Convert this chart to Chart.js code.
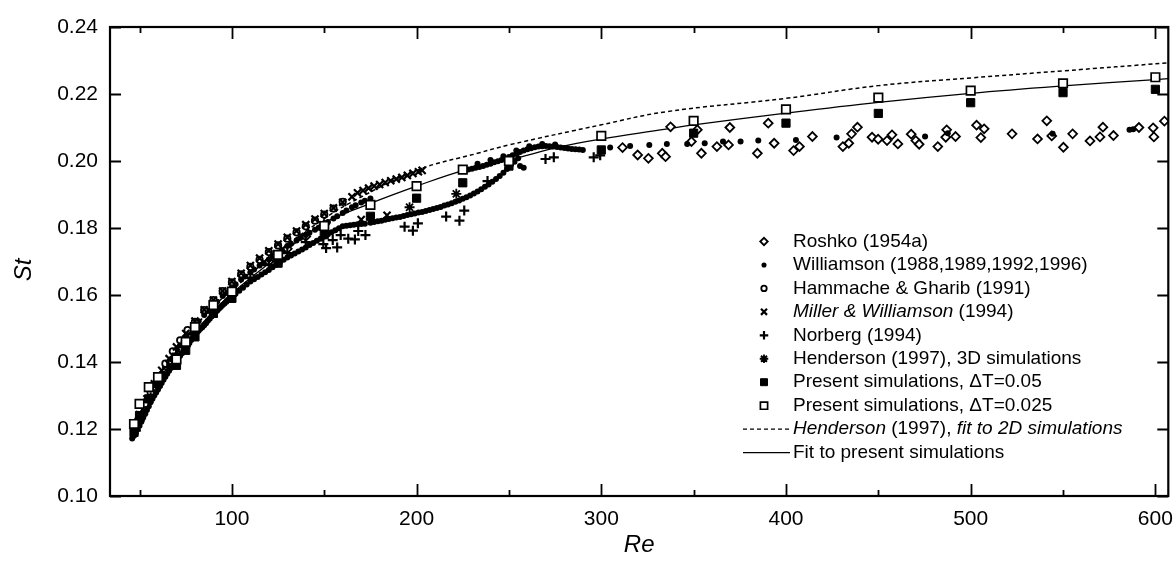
<!DOCTYPE html>
<html>
<head>
<meta charset="utf-8">
<script src="https://cdn.jsdelivr.net/npm/chart.js"></script>
<style>
  body { margin: 0; background: #fff; }
  canvas { display: block; }
</style>
</head>
<body>
<canvas id="myChart" width="1176" height="561"></canvas>
<script>
// axis ticks
const xTicks = [100, 200, 300, 400, 500, 600];
const xMinorTicks = [50, 150, 250, 350, 450, 550];
const yTicks = [0.10, 0.12, 0.14, 0.16, 0.18, 0.20, 0.22, 0.24];

// [Re, St]
const roshko = [
  [50, 0.1225], [55, 0.129], [60, 0.134], [65, 0.1385], [70, 0.1425], [80, 0.1495],
  [90, 0.1558], [100, 0.161], [110, 0.1655], [120, 0.170], [130, 0.1738], [140, 0.1775], [150, 0.181],
  [311.5, 0.204], [319.7, 0.2018], [325.5, 0.2008], [333, 0.2023], [334.8, 0.2013], [337.5, 0.2102],
  [348.8, 0.2058], [352, 0.2093], [354.2, 0.2023], [362.6, 0.2043], [368.9, 0.2048], [369.6, 0.21],
  [384.5, 0.2023], [390.4, 0.2113], [393.6, 0.2053], [404.1, 0.2031], [407.3, 0.2043], [414.3, 0.2073],
  [430.8, 0.2043], [434, 0.2053], [435.5, 0.2081], [438.7, 0.2101], [446.6, 0.2071], [449.9, 0.2065],
  [454.7, 0.2061], [457.4, 0.2078], [460.6, 0.2051], [467.8, 0.208], [470.3, 0.2061], [472.1, 0.205],
  [482.2, 0.2043], [486.5, 0.2071], [487, 0.2093], [491.8, 0.2073], [503.2, 0.2107], [505.5, 0.207],
  [507.3, 0.2096], [522.4, 0.2081], [536.2, 0.2066], [541.2, 0.212], [543.9, 0.2075], [550.2, 0.2041],
  [555.2, 0.2081], [564.6, 0.206], [570, 0.2072], [571.6, 0.2101], [577.3, 0.2076], [591.1, 0.21],
  [598.8, 0.2099], [599.2, 0.2072], [604.9, 0.2119]
];

const williamson = [
  [46, 0.1172], [47, 0.118], [48, 0.1188], [49, 0.12], [50, 0.121], [51, 0.1222], [52, 0.1234],
  [53, 0.1245], [54, 0.1257], [55, 0.1268], [56, 0.128], [57, 0.129], [58, 0.13], [59, 0.1309],
  [60, 0.1318], [61, 0.1328], [62, 0.1337], [63, 0.1347], [64, 0.1356], [65, 0.1365], [66, 0.1374],
  [67, 0.1382], [68, 0.139], [69, 0.1398], [70, 0.1405], [71, 0.1412], [72, 0.1419], [73, 0.1426],
  [74, 0.1433], [75, 0.144], [76, 0.1448], [77, 0.1457], [78, 0.1466], [79, 0.1474], [80, 0.1482],
  [81, 0.1488], [82, 0.1493], [83, 0.1499], [84, 0.1504], [85, 0.151], [86, 0.1516], [87, 0.1523],
  [88, 0.1529], [89, 0.1536], [90, 0.1542], [91, 0.1548], [92, 0.1553], [93, 0.1559], [94, 0.1564],
  [95, 0.157], [96, 0.1575], [97, 0.158], [98, 0.1585], [99, 0.159], [100, 0.1595],
  [102, 0.1604], [104, 0.1613], [106, 0.1622], [108, 0.1631], [110, 0.164], [112, 0.1647],
  [114, 0.1654], [116, 0.1661], [118, 0.1668], [120, 0.1675], [122, 0.1683], [124, 0.169],
  [126, 0.1697], [128, 0.1705], [130, 0.1712], [132, 0.1718], [134, 0.1724], [136, 0.173],
  [138, 0.1736], [140, 0.1742], [142, 0.1749], [144, 0.1755], [146, 0.1762], [148, 0.1768],
  [150, 0.1775], [152, 0.1781], [154, 0.1787], [156, 0.1793], [158, 0.1799], [160, 0.1805],
  [48, 0.1205], [50, 0.1228], [52, 0.1252], [55, 0.129], [57, 0.1312], [60, 0.1345], [62, 0.1362],
  [65, 0.1392], [67, 0.1408], [70, 0.1435], [72, 0.1449], [75, 0.1472], [77, 0.1488], [80, 0.1511],
  [82, 0.1522], [85, 0.154], [87, 0.1552], [90, 0.1568], [92, 0.158], [95, 0.1597], [97, 0.1607],
  [100, 0.1622], [102, 0.1632], [105, 0.1646], [107, 0.1655], [110, 0.1668], [112, 0.1676],
  [115, 0.1688], [117, 0.1695], [120, 0.1706], [122, 0.1714], [125, 0.1726], [127, 0.1734],
  [130, 0.1746], [132, 0.1753], [135, 0.1763], [137, 0.177], [140, 0.1779], [142, 0.1786],
  [145, 0.1795], [147, 0.1801], [150, 0.1811], [152, 0.1818], [155, 0.1828], [157, 0.1835],
  [160, 0.1845], [162, 0.1852], [165, 0.1862], [167, 0.1868], [170, 0.1876], [172, 0.1881], [175, 0.1888],
  [162, 0.1807], [164, 0.1808], [166, 0.181], [168, 0.1811], [170, 0.1812], [172, 0.1813],
  [175, 0.1816], [177, 0.1818], [179, 0.182], [181, 0.1822], [183, 0.1825], [185, 0.1827],
  [187, 0.1829], [189, 0.1831], [191, 0.1833], [193, 0.1836], [195, 0.1839], [197, 0.1841],
  [199, 0.1843], [201, 0.1846], [203, 0.1848], [205, 0.1851], [207, 0.1854], [209, 0.1857],
  [211, 0.186], [213, 0.1863], [215, 0.1867], [217, 0.187], [219, 0.1874], [221, 0.1878],
  [223, 0.1882], [225, 0.1887], [227, 0.1892], [229, 0.1897], [231, 0.1903], [233, 0.1909],
  [235, 0.1916], [237, 0.1923], [239, 0.193], [241, 0.1938], [243, 0.1946], [245, 0.1955],
  [247, 0.1965], [249, 0.1976], [251, 0.1988], [253, 0.1998], [255, 0.2008], [256, 0.1985], [258, 0.198],
  [228, 0.1975], [230, 0.1977], [232, 0.198], [234, 0.1982], [236, 0.1985], [238, 0.1989],
  [240, 0.1992], [242, 0.1996], [244, 0.1999], [246, 0.2003], [248, 0.2007], [250, 0.2012],
  [252, 0.2017], [254, 0.2022], [256, 0.2027], [258, 0.2031], [260, 0.2035], [262, 0.2038],
  [264, 0.2041], [266, 0.2043], [268, 0.2044], [270, 0.2045], [272, 0.2044], [274, 0.2043],
  [276, 0.2042], [278, 0.204], [280, 0.2039], [282, 0.2037], [284, 0.2036], [286, 0.2035],
  [288, 0.2034], [290, 0.2033],
  [233, 0.1992], [240, 0.2003], [247, 0.2014], [254, 0.2031], [261, 0.2044], [268, 0.2051], [275, 0.2049],
  [304.8, 0.204], [315.6, 0.2045], [326, 0.2048], [335.5, 0.2051], [346.5, 0.2051], [356, 0.2053],
  [365.9, 0.2058], [375.4, 0.2058], [385, 0.2061], [405.4, 0.2063], [427.4, 0.207], [475.3, 0.2073],
  [487.6, 0.2083], [544.4, 0.2081], [586, 0.2093], [588, 0.2095]
];

const hammache = [
  [47, 0.1195], [50, 0.1238], [53, 0.1275], [56, 0.131], [60, 0.1355], [64, 0.1395], [68, 0.1432],
  [72, 0.1465], [76, 0.1495], [80, 0.152], [85, 0.1555], [90, 0.1585], [95, 0.1612], [100, 0.1638],
  [105, 0.1662], [110, 0.1684], [115, 0.1705], [120, 0.1728], [125, 0.1748], [130, 0.1768],
  [135, 0.1787], [140, 0.1805], [145, 0.1822], [150, 0.184], [155, 0.1858], [160, 0.1878]
];

const miller = [
  [50, 0.1243], [54, 0.129], [58, 0.1335], [62, 0.1375], [66, 0.141], [70, 0.1445], [75, 0.1485],
  [80, 0.1522], [85, 0.1556], [90, 0.1585], [95, 0.1612], [100, 0.164], [105, 0.1665], [110, 0.1688],
  [115, 0.171], [120, 0.1732], [125, 0.1752], [130, 0.1772], [135, 0.1791], [140, 0.181],
  [145, 0.1827], [150, 0.1843], [155, 0.186], [160, 0.1877], [165, 0.1893], [168, 0.1905],
  [171, 0.1912], [174, 0.1919], [177, 0.1925], [180, 0.193], [183, 0.1936], [186, 0.1941],
  [189, 0.1946], [192, 0.1951], [195, 0.1957], [198, 0.1963], [201, 0.1968], [203, 0.1972],
  [170, 0.1825], [184, 0.1838]
];

const norberg = [
  [48, 0.1195], [52, 0.1245], [56, 0.1295], [60, 0.1335], [65, 0.1385], [70, 0.1425], [75, 0.146],
  [80, 0.1495], [90, 0.1555], [100, 0.1605], [110, 0.1652], [120, 0.169], [130, 0.1725], [140, 0.1758],
  [149.5, 0.1752], [151, 0.174], [154.6, 0.1764], [157, 0.1742], [158.9, 0.1779], [163, 0.1768],
  [166.6, 0.1766], [168.4, 0.1791], [172.3, 0.1779], [193.5, 0.1804], [198, 0.1792], [200.7, 0.1814],
  [216, 0.1834], [223.2, 0.1822], [225.8, 0.1852], [238.4, 0.194], [269.8, 0.2006], [274.3, 0.2011],
  [295.9, 0.2011], [299.4, 0.2017]
];

const henderson3d = [[196.2, 0.1862], [221.5, 0.1902]];

const presentDt05 = [
  [47, 0.119], [50, 0.124], [55, 0.129], [60, 0.1335], [70, 0.139], [75, 0.1435], [80, 0.1475],
  [90, 0.1545], [100, 0.159], [125, 0.1695], [150, 0.178], [175, 0.1835], [200, 0.1889], [225, 0.1935],
  [250, 0.1985], [300, 0.2033], [350, 0.2083], [400, 0.2113], [450, 0.2142], [500, 0.2174],
  [550, 0.2204], [600, 0.2214]
];

const presentDt025 = [
  [47, 0.1215], [50, 0.1275], [55, 0.1325], [60, 0.1355], [70, 0.1408], [75, 0.146], [80, 0.1504],
  [90, 0.157], [100, 0.161], [125, 0.172], [150, 0.1806], [175, 0.1869], [200, 0.1925], [225, 0.1974],
  [250, 0.2], [300, 0.2075], [350, 0.212], [400, 0.2154], [450, 0.2189], [500, 0.221], [550, 0.2232],
  [600, 0.225]
];

const hendersonFit = [
  [47, 0.1225], [50, 0.1255], [60, 0.1355], [70, 0.1435], [80, 0.1505], [90, 0.1565], [100, 0.1615],
  [125, 0.173], [150, 0.1828], [163, 0.1872], [200, 0.1972], [233, 0.2023], [250, 0.2048],
  [300, 0.2108], [335, 0.2147], [400, 0.2187], [450, 0.2225], [500, 0.2248], [550, 0.2269], [607, 0.2293]
];

const presentFit = [
  [47, 0.1215], [50, 0.1245], [60, 0.1345], [70, 0.1415], [80, 0.149], [90, 0.155], [100, 0.1605],
  [125, 0.1715], [150, 0.1815], [172, 0.1867], [200, 0.1925], [226, 0.1973], [250, 0.2003],
  [278, 0.2043], [298, 0.2064], [335, 0.2095], [350, 0.2108], [400, 0.2143], [450, 0.2175],
  [500, 0.2202], [550, 0.2224], [600, 0.2243], [607, 0.2246]
];

const FONT = "'Liberation Sans', Arial, sans-serif";

function pts(arr) {
  return arr.map(p => ({ x: p[0], y: p[1] }));
}

// marker styles, shared with the legend
const styles = {
  roshko: { pointStyle: "rectRot", radius: 4.4, borderWidth: 1.8, fill: "#fff" },
  williamson: { pointStyle: "circle", radius: 3, borderWidth: 0, fill: "#000" },
  hammache: { pointStyle: "circle", radius: 3.2, borderWidth: 1.8, fill: "#fff" },
  miller: { pointStyle: "crossRot", radius: 5, borderWidth: 2.2, fill: "#000" },
  norberg: { pointStyle: "cross", radius: 5, borderWidth: 2.2, fill: "#000" },
  henderson: { pointStyle: "star", radius: 5, borderWidth: 1.8, fill: "#000" },
  dt05: { pointStyle: "rect", radius: 5.8, borderWidth: 1, fill: "#000" },
  dt025: { pointStyle: "rect", radius: 6, borderWidth: 1.7, fill: "#fff" },
};

function scatterSet(label, data, st, order) {
  return {
    label: label,
    data: pts(data),
    showLine: false,
    pointStyle: st.pointStyle,
    pointRadius: st.radius,
    pointBorderWidth: st.borderWidth,
    pointBackgroundColor: st.fill,
    pointBorderColor: "#000",
    order: order,
  };
}

const legendRows = [
  { st: styles.roshko, parts: [["Roshko (1954a)", false]] },
  { st: styles.williamson, parts: [["Williamson (1988,1989,1992,1996)", false]] },
  { st: styles.hammache, parts: [["Hammache & Gharib (1991)", false]] },
  { st: styles.miller, parts: [["Miller & Williamson", true], [" (1994)", false]] },
  { st: styles.norberg, parts: [["Norberg (1994)", false]] },
  { st: styles.henderson, parts: [["Henderson (1997), 3D simulations", false]] },
  { st: styles.dt05, parts: [["Present simulations, \u0394T=0.05", false]] },
  { st: styles.dt025, parts: [["Present simulations, \u0394T=0.025", false]] },
  { line: [4, 3], parts: [["Henderson", true], [" (1997),", false], [" fit to 2D simulations", true]] },
  { line: [], parts: [["Fit to present simulations", false]] },
];

// frame, inward ticks, axis titles and legend
const decorations = {
  id: "decorations",
  afterDraw(chart) {
    const ctx = chart.ctx;
    const a = chart.chartArea;
    const xs = chart.scales.x;
    const ys = chart.scales.y;
    ctx.save();
    ctx.strokeStyle = "#000";
    ctx.lineWidth = 1.8;
    ctx.beginPath();
    xTicks.forEach(v => {
      const px = Math.round(xs.getPixelForValue(v)) + 0.5;
      ctx.moveTo(px, a.bottom); ctx.lineTo(px, a.bottom - 12);
      ctx.moveTo(px, a.top); ctx.lineTo(px, a.top + 12);
    });
    xMinorTicks.forEach(v => {
      const px = Math.round(xs.getPixelForValue(v)) + 0.5;
      ctx.moveTo(px, a.bottom); ctx.lineTo(px, a.bottom - 6);
      ctx.moveTo(px, a.top); ctx.lineTo(px, a.top + 6);
    });
    yTicks.forEach(v => {
      const py = Math.round(ys.getPixelForValue(v)) + 0.5;
      ctx.moveTo(a.left, py); ctx.lineTo(a.left + 11, py);
      ctx.moveTo(a.right, py); ctx.lineTo(a.right - 11, py);
    });
    ctx.stroke();
    ctx.lineWidth = 2.2;
    ctx.strokeRect(a.left, a.top, a.right - a.left, a.bottom - a.top);

    // axis titles
    ctx.fillStyle = "#000";
    ctx.font = "italic 24px " + FONT;
    ctx.textAlign = "center";
    ctx.textBaseline = "middle";
    ctx.fillText("Re", (a.left + a.right) / 2, 545);
    ctx.save();
    ctx.translate(24, 270);
    ctx.rotate(-Math.PI / 2);
    ctx.fillText("St", 0, 0);
    ctx.restore();

    // legend
    const mx = 764, tx = 793;
    let ly = 241.5;
    ctx.textAlign = "left";
    legendRows.forEach(row => {
      if (row.line) {
        ctx.lineWidth = 1.3;
        ctx.setLineDash(row.line);
        ctx.beginPath();
        ctx.moveTo(743, ly); ctx.lineTo(790, ly);
        ctx.stroke();
        ctx.setLineDash([]);
      } else {
        ctx.fillStyle = row.st.fill;
        ctx.lineWidth = row.st.borderWidth;
        Chart.helpers.drawPoint(ctx, {
          pointStyle: row.st.pointStyle, radius: row.st.radius * 0.85,
          rotation: 0, borderWidth: row.st.borderWidth
        }, mx, ly);
      }
      let x = tx;
      ctx.fillStyle = "#000";
      row.parts.forEach(p => {
        ctx.font = (p[1] ? "italic " : "") + "19px " + FONT;
        ctx.fillText(p[0], x, ly);
        x += ctx.measureText(p[0]).width;
      });
      ly += 23.45;
    });
    ctx.restore();
  }
};

const whiteBg = {
  id: "whiteBg",
  beforeDraw(chart) {
    const ctx = chart.ctx;
    ctx.save();
    ctx.fillStyle = "#fff";
    ctx.fillRect(0, 0, chart.width, chart.height);
    ctx.restore();
  }
};

const ctx = document.getElementById("myChart");
new Chart(ctx, {
  type: "scatter",
  data: {
    datasets: [
      scatterSet("Present simulations, \u0394T=0.025", presentDt025, styles.dt025, 1),
      scatterSet("Present simulations, \u0394T=0.05", presentDt05, styles.dt05, 2),
      scatterSet("Henderson (1997), 3D simulations", henderson3d, styles.henderson, 3),
      scatterSet("Norberg (1994)", norberg, styles.norberg, 4),
      scatterSet("Miller & Williamson (1994)", miller, styles.miller, 5),
      scatterSet("Hammache & Gharib (1991)", hammache, styles.hammache, 6),
      scatterSet("Williamson (1988,1989,1992,1996)", williamson, styles.williamson, 7),
      scatterSet("Roshko (1954a)", roshko, styles.roshko, 8),
      {
        label: "Henderson (1997), fit to 2D simulations",
        data: pts(hendersonFit),
        showLine: true,
        borderColor: "#000",
        borderWidth: 1.5,
        borderDash: [4, 3],
        pointRadius: 0,
        tension: 0.4,
        order: 9,
      },
      {
        label: "Fit to present simulations",
        data: pts(presentFit),
        showLine: true,
        borderColor: "#000",
        borderWidth: 1.3,
        pointRadius: 0,
        tension: 0.4,
        order: 10,
      },
    ],
  },
  options: {
    responsive: false,
    animation: false,
    devicePixelRatio: 1,
    layout: { padding: { left: 0, right: 2, top: 27, bottom: 0 } },
    plugins: { legend: { display: false }, tooltip: { enabled: false } },
    scales: {
      x: {
        type: "linear",
        min: 34,
        max: 607,
        afterBuildTicks: s => { s.ticks = xTicks.map(v => ({ value: v })); },
        afterFit: s => { s.height = 65; s.paddingLeft = 0; s.paddingRight = 0; },
        grid: { display: false, drawTicks: false },
        border: { display: false },
        ticks: { color: "#000", font: { family: FONT, size: 21 }, padding: 11, maxRotation: 0 },
      },
      y: {
        type: "linear",
        min: 0.10,
        max: 0.24,
        afterBuildTicks: s => { s.ticks = yTicks.map(v => ({ value: v })); },
        afterFit: s => { s.width = 110; s.paddingTop = 0; s.paddingBottom = 0; },
        grid: { display: false, drawTicks: false },
        border: { display: false },
        ticks: {
          color: "#000", font: { family: FONT, size: 21 }, padding: 12,
          callback: v => v.toFixed(2),
        },
      },
    },
  },
  plugins: [whiteBg, decorations],
});
</script>
</body>
</html>
